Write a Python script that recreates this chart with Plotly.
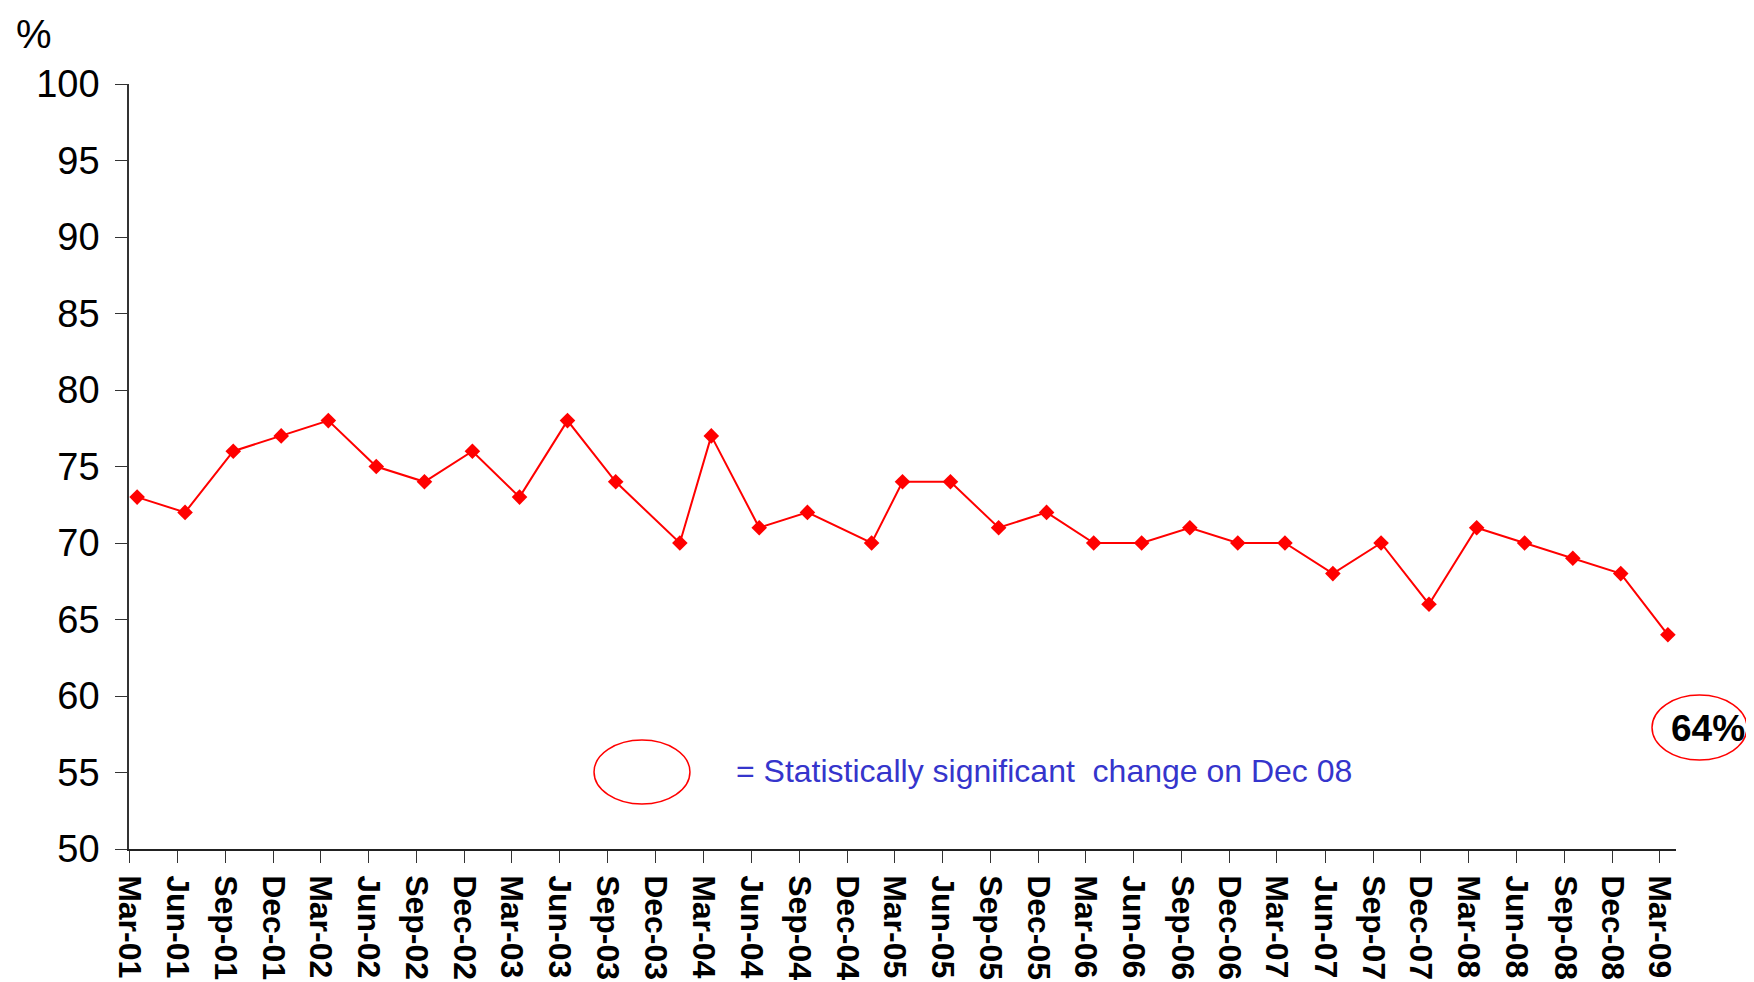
import plotly.graph_objects as go

# quarterly survey results, % (two readings were taken in January)
months = [
    "2001-03", "2001-06", "2001-09", "2001-12",
    "2002-03", "2002-06", "2002-09", "2002-12",
    "2003-03", "2003-06", "2003-09", "2004-01",
    "2004-03", "2004-06", "2004-09", "2005-01",
    "2005-03", "2005-06", "2005-09", "2005-12",
    "2006-03", "2006-06", "2006-09", "2006-12",
    "2007-03", "2007-06", "2007-09", "2007-12",
    "2008-03", "2008-06", "2008-09", "2008-12",
    "2009-03",
]
values = [
    73, 72, 76, 77,
    78, 75, 74, 76,
    73, 78, 74, 70,
    77, 71, 72, 70,
    74, 74, 71, 72,
    70, 70, 71, 70,
    70, 68, 70, 66,
    71, 70, 69, 68,
    64,
]
y_ticks = [50, 55, 60, 65, 70, 75, 80, 85, 90, 95, 100]
legend_text = "= Statistically significant\u00a0\u00a0change on Dec 08"
latest_label = "64%"

FONT = "Arial, Liberation Sans, sans-serif"
RED = "#ff0000"

fig = go.Figure()
fig.add_trace(
    go.Scatter(
        x=[m + "-01" for m in months],
        y=values,
        xperiod="M1",
        xperiodalignment="middle",
        mode="lines+markers",
        line={"color": RED, "width": 2},
        marker={"symbol": "diamond", "size": 12, "color": RED},
        showlegend=False,
    )
)

fig.update_xaxes(
    type="date",
    range=["2001-03-01", "2009-04-01"],
    tick0="2001-03-01",
    dtick="M3",
    tickformat="%b-%y",
    tickangle=90,
    ticks="outside",
    ticklen=12,
    tickcolor="#333",
    ticklabelstandoff=6,
    tickfont={"family": FONT, "size": 32, "color": "black", "weight": "bold"},
    showline=True,
    linecolor="#222",
    linewidth=1.5,
    showgrid=False,
    zeroline=False,
)
fig.update_yaxes(
    range=[50, 100],
    tickvals=y_ticks,
    ticks="outside",
    ticklen=12,
    tickcolor="#333",
    ticklabelstandoff=8,
    tickfont={"family": FONT, "size": 38, "color": "black"},
    showline=True,
    linecolor="#333",
    linewidth=1.5,
    showgrid=False,
    zeroline=False,
)

# legend marker + explanation
fig.add_shape(
    type="circle", xref="paper", yref="paper",
    x0=0.3006, x1=0.3626, y0=0.0588, y1=0.1425,
    line={"color": RED, "width": 1.5},
)
fig.add_annotation(
    x=0.3911, y=0.102, xref="paper", yref="paper",
    xanchor="left", yanchor="middle", showarrow=False,
    text=legend_text,
    font={"family": FONT, "size": 32, "color": "#3535cc"},
)

# highlighted latest value
fig.add_shape(
    type="circle", xref="paper", yref="paper",
    x0=0.9845, x1=1.0459, y0=0.1163, y1=0.2013,
    line={"color": RED, "width": 1.5},
)
fig.add_annotation(
    x=1.0207, y=0.158, xref="paper", yref="paper",
    xanchor="center", yanchor="middle", showarrow=False,
    text=latest_label,
    font={"family": FONT, "size": 37, "color": "black", "weight": "bold"},
)

# y axis unit
fig.add_annotation(
    x=-0.0614, y=1.066, xref="paper", yref="paper",
    xanchor="center", yanchor="middle", showarrow=False,
    text="%",
    font={"family": FONT, "size": 40, "color": "black"},
)

# the page adds an 8px body margin, so the margins are offset by it
fig.update_layout(
    width=1754,
    height=982,
    margin={"l": 121, "r": 86, "t": 76, "b": 141, "autoexpand": False},
    paper_bgcolor="white",
    plot_bgcolor="white",
    font={"family": FONT},
)

fig.write_html("out.html")
